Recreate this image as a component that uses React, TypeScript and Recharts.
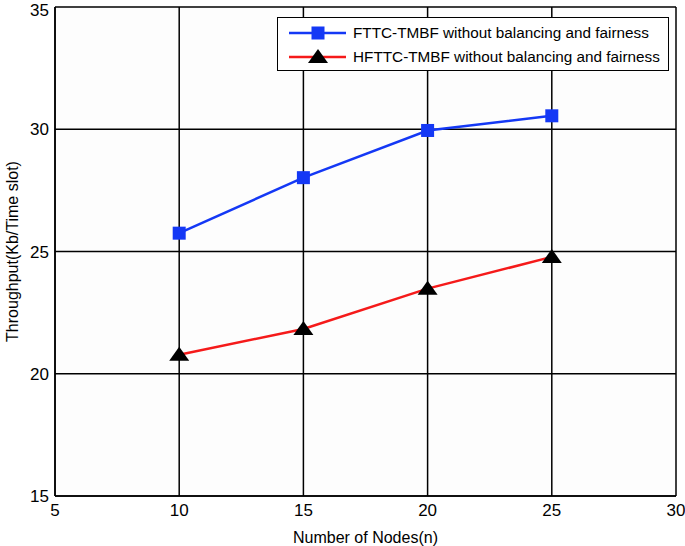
import { LineChart, Line, XAxis, YAxis, CartesianGrid } from "recharts";

const BLUE = "#1438f5";
const RED = "#f51a1a";
const INK = "#000000";
const FONT = "Liberation Sans, Arial, sans-serif";

const nodes = [10, 15, 20, 25];
const fttcValues = [25.75, 28.02, 29.95, 30.55];
const hfttcValues = [20.78, 21.83, 23.48, 24.78];
const xTicks = [5, 10, 15, 20, 25, 30];
const yTicks = [15, 20, 25, 30, 35];
const seriesNames = [
  "FTTC-TMBF without balancing and fairness",
  "HFTTC-TMBF without balancing and fairness",
];

const data = nodes.map((n, i) => ({ n, fttc: fttcValues[i], hfttc: hfttcValues[i] }));

function SquareDot(props: any) {
  const { cx, cy } = props;
  if (cx == null || cy == null) return null;
  return <rect x={cx - 6.5} y={cy - 6.5} width={13} height={13} fill={BLUE} />;
}

function TriangleDot(props: any) {
  const { cx, cy } = props;
  if (cx == null || cy == null) return null;
  return (
    <polygon
      points={`${cx},${cy - 8} ${cx - 10},${cy + 6} ${cx + 10},${cy + 6}`}
      fill={INK}
    />
  );
}

/* legend drawn as an overlay so it doesn't eat plot space */
function LegendBox() {
  const rows = [
    { name: seriesNames[0], color: BLUE, marker: "square" },
    { name: seriesNames[1], color: RED, marker: "triangle" },
  ];
  return (
    <div
      style={{
        position: "absolute",
        left: 277,
        top: 17,
        width: 392,
        height: 54,
        background: "#fff",
        border: `1.5px solid ${INK}`,
        boxSizing: "border-box",
        fontFamily: FONT,
        fontSize: 15.3,
        color: INK,
        paddingTop: 3,
      }}
    >
      {rows.map((r) => (
        <div key={r.name} style={{ display: "flex", alignItems: "center", height: 24 }}>
          <svg width={75} height={20} style={{ flexShrink: 0 }}>
            <line x1={11} y1={10} x2={68} y2={10} stroke={r.color} strokeWidth={2.5} />
            {r.marker === "square" ? (
              <rect x={33.5} y={3.5} width={13} height={13} fill={BLUE} />
            ) : (
              <polygon points="40,2 30,16 50,16" fill={INK} />
            )}
          </svg>
          <span>{r.name}</span>
        </div>
      ))}
    </div>
  );
}

export default function App() {
  return (
    <div style={{ position: "relative", width: 685, height: 546, background: "#fff" }}>
      <style>{"body{margin:0}"}</style>
      <LineChart
        width={685}
        height={546}
        data={data}
        margin={{ top: 7, right: 9, bottom: 0, left: 5 }}
      >
        <CartesianGrid stroke={INK} strokeWidth={1.5} fill="#fdfdfd" />
        <XAxis
          dataKey="n"
          type="number"
          domain={[5, 30]}
          ticks={xTicks}
          tickLine={false}
          axisLine={{ stroke: INK, strokeWidth: 1.5 }}
          tickMargin={2}
          height={50}
          tick={{ fill: INK, fontSize: 17, fontFamily: FONT }}
          label={{
            value: "Number of Nodes(n)",
            position: "insideBottom",
            offset: 3,
            fill: INK,
            fontSize: 16,
            fontFamily: FONT,
          }}
        />
        <YAxis
          type="number"
          domain={[15, 35]}
          ticks={yTicks}
          width={50}
          tickLine={false}
          axisLine={{ stroke: INK, strokeWidth: 1.5 }}
          tickMargin={0}
          tick={{ fill: INK, fontSize: 17, fontFamily: FONT }}
          label={{
            value: "Throughput(Kb/Time slot)",
            angle: -90,
            position: "insideLeft",
            offset: 7,
            style: { textAnchor: "middle" },
            fill: INK,
            fontSize: 16,
            fontFamily: FONT,
          }}
        />
        <Line
          type="linear"
          dataKey="fttc"
          name={seriesNames[0]}
          stroke={BLUE}
          strokeWidth={2.5}
          dot={<SquareDot />}
          activeDot={false}
          isAnimationActive={false}
        />
        <Line
          type="linear"
          dataKey="hfttc"
          name={seriesNames[1]}
          stroke={RED}
          strokeWidth={2.5}
          dot={<TriangleDot />}
          activeDot={false}
          isAnimationActive={false}
        />
      </LineChart>
      <LegendBox />
    </div>
  );
}
